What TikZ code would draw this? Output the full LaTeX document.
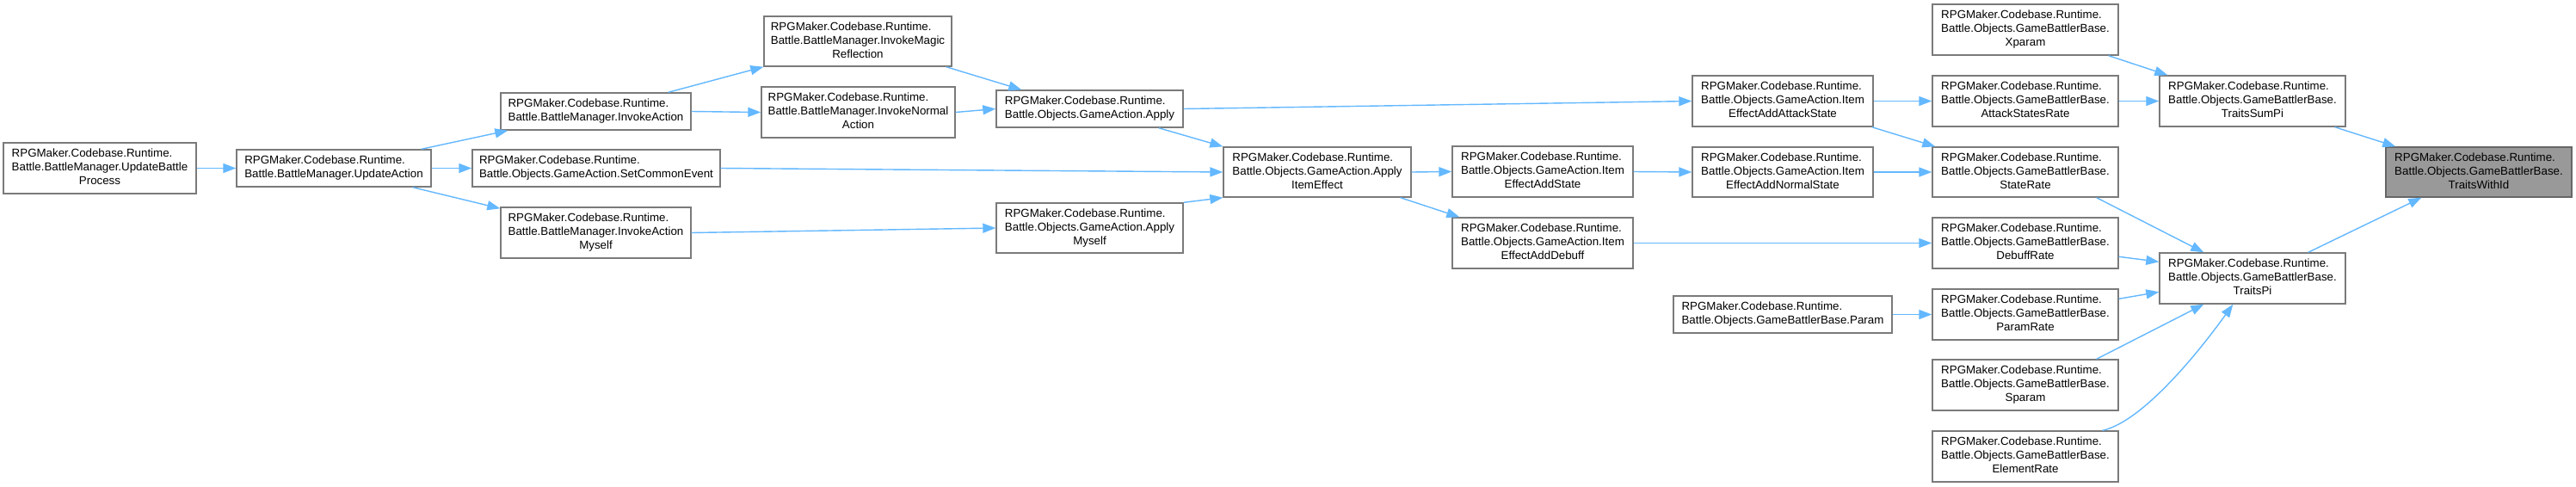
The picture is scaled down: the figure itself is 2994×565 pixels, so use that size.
\documentclass[tikz,border=0pt]{standalone}
\usepackage{fontspec}
\setmainfont{Liberation Sans}
\usetikzlibrary{arrows.meta}
\definecolor{edgec}{HTML}{63B8FF}
\definecolor{boxc}{HTML}{7A7A7A}
\definecolor{hlfill}{HTML}{999999}
\definecolor{hlline}{HTML}{666666}
\newcommand{\lthree}[3]{\begin{tabular}{@{}l@{}}#1\\#2\\\multicolumn{1}{@{}c@{}}{#3}\end{tabular}}
\newcommand{\ltwo}[2]{\begin{tabular}{@{}l@{}}#1\\#2\end{tabular}}
\tikzset{
  box/.style={draw=boxc, line width=1.4pt, fill=white, inner sep=0pt, text=black,
    font=\fontsize{13.33}{16}\selectfont},
  hlbox/.style={box, draw=hlline, fill=hlfill},
  arr/.style={draw=edgec, line width=1.4pt, -{Triangle[length=15pt,width=11pt]}}
}
\begin{document}
\begin{tikzpicture}[x=1pt,y=-1pt]
\fill[white] (0,0) rectangle (2994,565);
\useasboundingbox (0,0) rectangle (2994,565);

% column 0-1
\node[box, minimum width=224pt, minimum height=59pt] (ubp) at (116,195.5) {\lthree{RPGMaker.Codebase.Runtime.}{Battle.BattleManager.UpdateBattle}{Process}};
\node[box, minimum width=226pt, minimum height=43pt] (ua) at (388,195.5) {\ltwo{RPGMaker.Codebase.Runtime.}{Battle.BattleManager.UpdateAction}};
% column 2
\node[box, minimum width=221pt, minimum height=43pt] (ia) at (692.5,129.5) {\ltwo{RPGMaker.Codebase.Runtime.}{Battle.BattleManager.InvokeAction}};
\node[box, minimum width=288pt, minimum height=43pt] (sce) at (693,195.5) {\ltwo{RPGMaker.Codebase.Runtime.}{Battle.Objects.GameAction.SetCommonEvent}};
\node[box, minimum width=221pt, minimum height=59pt] (iam) at (692.5,270.5) {\lthree{RPGMaker.Codebase.Runtime.}{Battle.BattleManager.InvokeAction}{Myself}};
% column 3
\node[box, minimum width=218pt, minimum height=58pt] (imr) at (997,48) {\lthree{RPGMaker.Codebase.Runtime.}{Battle.BattleManager.InvokeMagic}{Reflection}};
\node[box, minimum width=225pt, minimum height=59pt] (ina) at (997.5,130.5) {\lthree{RPGMaker.Codebase.Runtime.}{Battle.BattleManager.InvokeNormal}{Action}};
% column 4
\node[box, minimum width=217pt, minimum height=43pt] (apply) at (1266.5,126.5) {\ltwo{RPGMaker.Codebase.Runtime.}{Battle.Objects.GameAction.Apply}};
\node[box, minimum width=217pt, minimum height=58pt] (am) at (1266.5,265) {\lthree{RPGMaker.Codebase.Runtime.}{Battle.Objects.GameAction.Apply}{Myself}};
% column 5
\node[box, minimum width=218pt, minimum height=58pt] (aie) at (1531,200) {\lthree{RPGMaker.Codebase.Runtime.}{Battle.Objects.GameAction.Apply}{ItemEffect}};
% column 6
\node[box, minimum width=210pt, minimum height=59pt] (eas) at (1793,199.5) {\lthree{RPGMaker.Codebase.Runtime.}{Battle.Objects.GameAction.Item}{EffectAddState}};
\node[box, minimum width=210pt, minimum height=59pt] (ead) at (1793,282.5) {\lthree{RPGMaker.Codebase.Runtime.}{Battle.Objects.GameAction.Item}{EffectAddDebuff}};
% column 7
\node[box, minimum width=210pt, minimum height=59pt] (eaas) at (2072,117.5) {\lthree{RPGMaker.Codebase.Runtime.}{Battle.Objects.GameAction.Item}{EffectAddAttackState}};
\node[box, minimum width=210pt, minimum height=58pt] (eans) at (2072,200) {\lthree{RPGMaker.Codebase.Runtime.}{Battle.Objects.GameAction.Item}{EffectAddNormalState}};
\node[box, minimum width=254pt, minimum height=43pt] (param) at (2072,365.5) {\ltwo{RPGMaker.Codebase.Runtime.}{Battle.Objects.GameBattlerBase.Param}};
% column 8
\node[box, minimum width=216pt, minimum height=59pt] (xp) at (2354,34.5) {\lthree{RPGMaker.Codebase.Runtime.}{Battle.Objects.GameBattlerBase.}{Xparam}};
\node[box, minimum width=216pt, minimum height=59pt] (asr) at (2354,117.5) {\lthree{RPGMaker.Codebase.Runtime.}{Battle.Objects.GameBattlerBase.}{AttackStatesRate}};
\node[box, minimum width=216pt, minimum height=58pt] (sr) at (2354,200) {\lthree{RPGMaker.Codebase.Runtime.}{Battle.Objects.GameBattlerBase.}{StateRate}};
\node[box, minimum width=216pt, minimum height=59pt] (dr) at (2354,282.5) {\lthree{RPGMaker.Codebase.Runtime.}{Battle.Objects.GameBattlerBase.}{DebuffRate}};
\node[box, minimum width=216pt, minimum height=59pt] (pr) at (2354,365.5) {\lthree{RPGMaker.Codebase.Runtime.}{Battle.Objects.GameBattlerBase.}{ParamRate}};
\node[box, minimum width=216pt, minimum height=59pt] (sp) at (2354,447.5) {\lthree{RPGMaker.Codebase.Runtime.}{Battle.Objects.GameBattlerBase.}{Sparam}};
\node[box, minimum width=216pt, minimum height=59pt] (er) at (2354,530.5) {\lthree{RPGMaker.Codebase.Runtime.}{Battle.Objects.GameBattlerBase.}{ElementRate}};
% column 9
\node[box, minimum width=216pt, minimum height=59pt] (tsp) at (2618,117.5) {\lthree{RPGMaker.Codebase.Runtime.}{Battle.Objects.GameBattlerBase.}{TraitsSumPi}};
\node[box, minimum width=216pt, minimum height=59pt] (tpi) at (2618,323.5) {\lthree{RPGMaker.Codebase.Runtime.}{Battle.Objects.GameBattlerBase.}{TraitsPi}};
% column 10
\node[hlbox, minimum width=216pt, minimum height=58pt] (twi) at (2881,200) {\lthree{RPGMaker.Codebase.Runtime.}{Battle.Objects.GameBattlerBase.}{TraitsWithId}};

% edges
\draw[arr] (ubp.east) -- (ua.west);
\draw[arr] ([xshift=-12pt]ua.north east) -- ([xshift=9pt]ia.south west);
\draw[arr] (ua.east) -- (sce.west);
\draw[arr] ([xshift=-22pt]ua.south east) -- ([yshift=-2pt]iam.north west);
\draw[arr] ([xshift=-27pt]ia.north east) -- (imr.south west);
\draw[arr] (ia.east) -- (ina.west);
\draw[arr] ([xshift=-7pt]imr.south east) -- ([xshift=30pt]apply.north west);
\draw[arr] (ina.east) -- (apply.west);
\draw[arr] (sce.east) -- (aie.west);
\draw[arr] (iam.east) -- (am.west);
\draw[arr] ([xshift=-29pt]apply.south east) -- (aie.north west);
\draw[arr] (apply.east) -- (eaas.west);
\draw[arr] (am.north east) -- (aie.south west);
\draw[arr] (aie.east) -- (eas.west);
\draw[arr] ([xshift=-13pt]aie.south east) -- ([xshift=9pt]ead.north west);
\draw[arr] (eas.east) -- (eans.west);
\draw[arr] (eaas.east) -- (asr.west);
\draw[arr] ([xshift=-2pt]eaas.south east) -- ([xshift=4pt]sr.north west);
\draw[arr] (eans.east) -- (sr.west);
\draw[arr] (ead.east) -- (dr.west);
\draw[arr] (param.east) -- (pr.west);
\draw[arr] ([xshift=-12pt]xp.south east) -- ([xshift=10pt]tsp.north west);
\draw[arr] (asr.east) -- (tsp.west);
\draw[arr] ([xshift=-26pt]sr.south east) -- ([xshift=52pt]tpi.north west);
\draw[arr] ([yshift=-46pt]dr.north east) -- ([yshift=-11pt]tpi.north west);
\draw[arr] ([yshift=-12pt]pr.north east) -- ([yshift=-46pt]tpi.north west);
\draw[arr] ([xshift=-26pt]sp.north east) -- ([xshift=52pt]tpi.south west);
\draw[arr] ([xshift=-19pt]er.north east) .. controls (2490,490) and (2555,410) .. ([xshift=86pt]tpi.south west);
\draw[arr] ([xshift=-13pt]tsp.south east) -- ([xshift=12pt]twi.north west);
\draw[arr] ([xshift=-44pt]tpi.north east) -- ([xshift=42pt]twi.south west);
\end{tikzpicture}
\end{document}
